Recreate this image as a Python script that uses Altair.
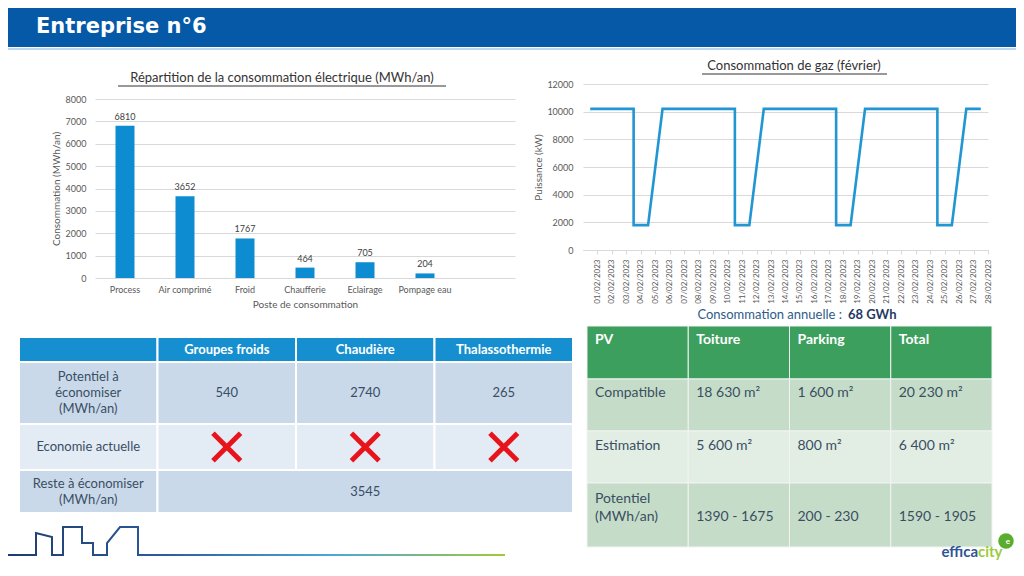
import altair as alt
import pandas as pd

W, H = 1008, 556
FONT = "Lato"

# ---------------- data ----------------
title_text = "Entreprise n°6"

elec_title = "Répartition de la consommation électrique (MWh/an)"
elec_categories = ["Process", "Air comprimé", "Froid", "Chaufferie", "Eclairage", "Pompage eau"]
elec_values = [6810, 3652, 1767, 464, 705, 204]
elec_ticks = [0, 1000, 2000, 3000, 4000, 5000, 6000, 7000, 8000]

gas_title = "Consommation de gaz (février)"
gas_dates = ["01/02/2023", "02/02/2023", "03/02/2023", "04/02/2023", "05/02/2023", "06/02/2023",
             "07/02/2023", "08/02/2023", "09/02/2023", "10/02/2023", "11/02/2023", "12/02/2023",
             "13/02/2023", "14/02/2023", "15/02/2023", "16/02/2023", "17/02/2023", "18/02/2023",
             "19/02/2023", "20/02/2023", "21/02/2023", "22/02/2023", "23/02/2023", "24/02/2023",
             "25/02/2023", "26/02/2023", "27/02/2023", "28/02/2023"]
gas_point_dates = ["01/02/2023", "02/02/2023", "03/02/2023", "04/02/2023", "04/02/2023", "05/02/2023",
                   "06/02/2023", "07/02/2023", "08/02/2023", "09/02/2023", "10/02/2023", "11/02/2023",
                   "11/02/2023", "12/02/2023", "13/02/2023", "14/02/2023", "15/02/2023", "16/02/2023",
                   "17/02/2023", "18/02/2023", "18/02/2023", "19/02/2023", "20/02/2023", "21/02/2023",
                   "22/02/2023", "23/02/2023", "24/02/2023", "25/02/2023", "25/02/2023", "26/02/2023",
                   "27/02/2023", "28/02/2023"]
gas_point_kw = [10200, 10200, 10200, 10200, 1800, 1800,
                10200, 10200, 10200, 10200, 10200, 10200,
                1800, 1800, 10200, 10200, 10200, 10200,
                10200, 10200, 1800, 1800, 10200, 10200,
                10200, 10200, 10200, 10200, 1800, 1800,
                10200, 10200]
gas_ticks = [0, 2000, 4000, 6000, 8000, 10000, 12000]

annual_label = "Consommation annuelle :"
annual_value = "68 GWh"

left_header = ["", "Groupes froids", "Chaudière", "Thalassothermie"]
left_rows = ["Potentiel à\néconomiser\n(MWh/an)", "Economie actuelle", "Reste à économiser\n(MWh/an)"]
left_potentiel = ["540", "2740", "265"]
left_economie_ok = [False, False, False]
left_reste = "3545"

pv_header = ["PV", "Toiture", "Parking", "Total"]
pv_rows = ["Compatible", "Estimation", "Potentiel\n(MWh/an)"]
pv_compatible = ["18 630 m²", "1 600 m²", "20 230 m²"]
pv_estimation = ["5 600 m²", "800 m²", "6 400 m²"]
pv_potentiel = ["1390 - 1675", "200 - 230", "1590 - 1905"]

logo_left = "effica"
logo_right = "city"

# decorative skyline outline (shape)
skyline_x = [0, 28, 28, 44, 44, 55, 55, 74, 74, 85, 85, 99, 99, 112, 130, 130, 497]
skyline_y = [547, 547, 525, 529, 547, 547, 519, 519, 535, 535, 547, 547, 535, 519, 519, 547, 547]

# ---------------- styles / layout ----------------
TXT = "#595959"
TABLE_TXT = "#3A4E63"
BLUE_HDR = "#0559A6"
BAR_BLUE = "#0E8CD2"
LINE_BLUE = "#2196D3"
GRID = "#D9D9D9"

# ---------- header ----------
one = pd.DataFrame({"t": [title_text]})
header = alt.layer(
    alt.Chart(one).mark_rect(color=BLUE_HDR).encode(
        x=alt.value(0), x2=alt.value(W), y=alt.value(0), y2=alt.value(39)),
    alt.Chart(one).mark_rule(color="#BDD7EE", strokeWidth=2).encode(
        x=alt.value(0), x2=alt.value(W), y=alt.value(41)),
    alt.Chart(one).mark_text(font="DejaVu Sans", fontWeight="bold", fontSize=21, color="white",
                             align="left", baseline="alphabetic").encode(
        x=alt.value(28), y=alt.value(25), text="t:N"),
)

# ---------- bar chart ----------
bar_df = pd.DataFrame({"poste": elec_categories, "mwh": elec_values})
bx = alt.X("poste:N", sort=None,
           scale=alt.Scale(domain=elec_categories + [" "], range=[87, 507], paddingInner=0, paddingOuter=0),
           axis=alt.Axis(orient="bottom", offset=270 - H, title="Poste de consommation", labelAngle=0,
                         labelFontSize=9, labelColor=TXT, labelFont=FONT, labelPadding=7,
                         titleFont=FONT, titleFontSize=10, titleColor=TXT, titleFontWeight="normal",
                         titlePadding=5, ticks=False, domain=False, grid=False))
by = alt.Y("mwh:Q",
           scale=alt.Scale(domain=[0, 8000], range=[270, 91], nice=False, zero=True),
           axis=alt.Axis(orient="left", offset=-87, values=elec_ticks, format="d", grid=True,
                         gridColor=GRID, domain=False, ticks=False, labelFontSize=9, labelColor=TXT,
                         labelFont=FONT, labelPadding=9, title="Consommation (MWh/an)", titleFont=FONT,
                         titleFontSize=10, titleColor=TXT, titleFontWeight="normal", titlePadding=4))
bars = alt.Chart(bar_df).mark_bar(size=19, color=BAR_BLUE).encode(x=bx, y=by)
bar_labels = alt.Chart(bar_df).mark_text(dy=-9, fontSize=9, font=FONT, color="#404040").encode(
    x=bx, y=by, text="mwh:Q")
elec_t = pd.DataFrame({"t": [elec_title]})
bar_title = alt.Chart(elec_t).mark_text(fontSize=13, font=FONT, color="#333333").encode(
    x=alt.value(274), y=alt.value(70), text="t:N")
bar_ul = alt.Chart(elec_t).mark_rule(color="#333333", strokeWidth=1).encode(
    x=alt.value(110), x2=alt.value(438), y=alt.value(78))
bar_group = alt.layer(bars, bar_labels, bar_title, bar_ul)

# ---------- gas line chart ----------
gas_df = pd.DataFrame({"date": gas_point_dates, "kw": gas_point_kw, "i": range(len(gas_point_kw))})
step = (980 - 575) / len(gas_dates)
lx = alt.X("date:N", sort=None,
           scale=alt.Scale(type="point", domain=gas_dates, range=[575, 980], padding=0.5),
           axis=alt.Axis(orient="bottom", offset=242 - H, title=None, labelAngle=270, labelFontSize=8,
                         labelColor=TXT, labelFont=FONT, labelPadding=5, ticks=True, tickColor=GRID,
                         tickSize=4, tickOffset=step / 2, domain=True, domainColor=GRID, grid=False))
ly = alt.Y("kw:Q",
           scale=alt.Scale(domain=[0, 12000], range=[242, 76], nice=False),
           axis=alt.Axis(orient="left", offset=-575, values=gas_ticks, format="d", grid=True,
                         gridColor=GRID, domain=False, ticks=False, labelFontSize=9, labelColor=TXT,
                         labelFont=FONT, labelPadding=10, title="Puissance (kW)", titleFont=FONT,
                         titleFontSize=10, titleColor=TXT, titleFontWeight="normal", titlePadding=3))
gas_line = alt.Chart(gas_df).mark_line(color=LINE_BLUE, strokeWidth=2.6, strokeJoin="miter").encode(
    x=lx, y=ly, order="i:Q")
gas_t = pd.DataFrame({"t": [gas_title]})
gas_title_m = alt.Chart(gas_t).mark_text(fontSize=13, font=FONT, color="#333333").encode(
    x=alt.value(786), y=alt.value(58), text="t:N")
gas_ul = alt.Chart(gas_t).mark_rule(color="#333333", strokeWidth=1).encode(
    x=alt.value(694), x2=alt.value(879), y=alt.value(66))
ann = pd.DataFrame({"a": [annual_label], "b": [annual_value]})
ann_a = alt.Chart(ann).mark_text(fontSize=13, font=FONT, color="#2E5C8A", align="right").encode(
    x=alt.value(834), y=alt.value(307), text="a:N")
ann_b = alt.Chart(ann).mark_text(fontSize=13, font=FONT, fontWeight="bold", color="#1F3864",
                                 align="left").encode(x=alt.value(840), y=alt.value(307), text="b:N")
line_group = alt.layer(gas_line, gas_title_m, gas_ul, ann_a, ann_b)

# ---------- left table (economies) ----------
L_ROW_H = [25, 62, 46, 43]
L_FILL = ["#168FD0", "#C9D9EA", "#E3EBF5", "#C9D9EA"]
L_LH = 16
l_tops = [sum(L_ROW_H[:k]) for k in range(len(L_ROW_H))]
l_total = sum(L_ROW_H)
cells = []
for c, name in enumerate(left_header):
    cells.append(dict(c0=c, c1=c + 1, r0=l_tops[0], r1=l_tops[0] + L_ROW_H[0], fill=L_FILL[0],
                      text=name, kind="head"))
for r, label in enumerate(left_rows):
    rr = r + 1
    top, bot = l_tops[rr], l_tops[rr] + L_ROW_H[rr]
    cells.append(dict(c0=0, c1=1, r0=top, r1=bot, fill=L_FILL[rr], text=label, kind="body"))
    if r == 0:
        for c, v in enumerate(left_potentiel):
            cells.append(dict(c0=c + 1, c1=c + 2, r0=top, r1=bot, fill=L_FILL[rr], text=v, kind="body"))
    elif r == 1:
        for c, ok in enumerate(left_economie_ok):
            cells.append(dict(c0=c + 1, c1=c + 2, r0=top, r1=bot, fill=L_FILL[rr], text="",
                              kind="ok" if ok else "cross"))
    else:
        cells.append(dict(c0=1, c1=4, r0=top, r1=bot, fill=L_FILL[rr], text=left_reste, kind="body"))
lt = pd.DataFrame(cells)
lt["xc"] = (lt.c0 + lt.c1) / 2
lt["yc"] = (lt.r0 + lt.r1) / 2
lt["ty"] = lt.yc - (lt.text.str.count("\n")) * L_LH / 2
lxs = alt.Scale(domain=[0, 4], range=[11, 565], nice=False, zero=False)
lys = alt.Scale(domain=[0, l_total], range=[329, 329 + l_total], nice=False, zero=False)
l_rect = alt.Chart(lt).mark_rect(stroke="white", strokeWidth=2).encode(
    x=alt.X("c0:Q", scale=lxs, axis=None), x2="c1:Q",
    y=alt.Y("r0:Q", scale=lys, axis=None), y2="r1:Q",
    fill=alt.Fill("fill:N", scale=None))
l_head = alt.Chart(lt).transform_filter(alt.datum.kind == "head").mark_text(
    font=FONT, fontSize=13, fontWeight="bold", color="white").encode(
    x=alt.X("xc:Q", scale=lxs, axis=None), y=alt.Y("ty:Q", scale=lys, axis=None), text="text:N")
l_body = alt.Chart(lt).transform_filter(alt.datum.kind == "body").mark_text(
    font=FONT, fontSize=13, color=TABLE_TXT, lineBreak="\n", lineHeight=L_LH).encode(
    x=alt.X("xc:Q", scale=lxs, axis=None), y=alt.Y("ty:Q", scale=lys, axis=None), text="text:N")
l_cross = alt.Chart(lt).transform_filter(alt.datum.kind == "cross").mark_point(
    shape="M-1,-1L1,1M-1,1L1,-1", size=760, stroke="#E8141B", strokeWidth=5, filled=False,
    opacity=1).encode(
    x=alt.X("xc:Q", scale=lxs, axis=None), y=alt.Y("yc:Q", scale=lys, axis=None))
left_table = alt.layer(l_rect, l_head, l_body, l_cross)

# ---------- right table (PV) ----------
R_ROW_H = [53, 52, 52, 64]
R_FILL = ["#3D9F5E", "#C5DDC8", "#E2EEE3", "#C5DDC8"]
R_TXT_OFF = [7, 7, 8, 9]
R_VAL_OFF = [7, 7, 8, 27]
r_tops = [sum(R_ROW_H[:k]) for k in range(len(R_ROW_H))]
r_total = sum(R_ROW_H)
pv_values = [pv_compatible, pv_estimation, pv_potentiel]
rc = []
for c, name in enumerate(pv_header):
    rc.append(dict(c0=c, c1=c + 1, r0=0, r1=R_ROW_H[0], fill=R_FILL[0], text=name, kind="head",
                   ty=R_TXT_OFF[0]))
for r, label in enumerate(pv_rows):
    rr = r + 1
    top, bot = r_tops[rr], r_tops[rr] + R_ROW_H[rr]
    rc.append(dict(c0=0, c1=1, r0=top, r1=bot, fill=R_FILL[rr], text=label, kind="body",
                   ty=top + R_TXT_OFF[rr]))
    for c, v in enumerate(pv_values[r]):
        rc.append(dict(c0=c + 1, c1=c + 2, r0=top, r1=bot, fill=R_FILL[rr], text=v, kind="body",
                       ty=top + R_VAL_OFF[rr]))
rt = pd.DataFrame(rc)
rxs = alt.Scale(domain=[0, 4], range=[579, 984], nice=False, zero=False)
rys = alt.Scale(domain=[0, r_total], range=[318, 318 + r_total], nice=False, zero=False)
r_rect = alt.Chart(rt).mark_rect(stroke="#F2F2F2", strokeWidth=1).encode(
    x=alt.X("c0:Q", scale=rxs, axis=None), x2="c1:Q",
    y=alt.Y("r0:Q", scale=rys, axis=None), y2="r1:Q",
    fill=alt.Fill("fill:N", scale=None))
r_head = alt.Chart(rt).transform_filter(alt.datum.kind == "head").mark_text(
    font=FONT, fontSize=14, fontWeight="bold", color="white", align="left", baseline="top", dx=8).encode(
    x=alt.X("c0:Q", scale=rxs, axis=None), y=alt.Y("ty:Q", scale=rys, axis=None), text="text:N")
r_body = alt.Chart(rt).transform_filter(alt.datum.kind == "body").mark_text(
    font=FONT, fontSize=14, color=TABLE_TXT, align="left", baseline="top", dx=8, lineBreak="\n",
    lineHeight=18).encode(
    x=alt.X("c0:Q", scale=rxs, axis=None), y=alt.Y("ty:Q", scale=rys, axis=None), text="text:N")
right_table = alt.layer(r_rect, r_head, r_body)

# ---------- skyline + logo ----------
sky = pd.DataFrame({"x": skyline_x, "y": skyline_y, "i": range(len(skyline_x))})
sky_line = alt.Chart(sky).mark_line(
    strokeWidth=2,
    stroke=alt.Gradient(gradient="linear", x1=0, x2=1, y1=0, y2=0,
                        stops=[alt.GradientStop(color="#1F3B6E", offset=0),
                               alt.GradientStop(color="#2B5A98", offset=0.3),
                               alt.GradientStop(color="#4BA6DA", offset=0.65),
                               alt.GradientStop(color="#A2C93A", offset=1)])).encode(
    x=alt.X("x:Q", scale=alt.Scale(domain=[0, W], range=[0, W], nice=False, zero=False), axis=None),
    y=alt.Y("y:Q", scale=alt.Scale(domain=[0, H], range=[0, H], nice=False, zero=False), axis=None),
    order="i:Q")
logo = pd.DataFrame({"a": [logo_left], "b": [logo_right], "e": ["e"]})
logo_ball = alt.Chart(logo).mark_point(shape="circle", filled=True, size=240, color="#5BAE2D",
                                       opacity=1).encode(x=alt.value(998), y=alt.value(533))
logo_e = alt.Chart(logo).mark_text(fontSize=8, font=FONT, fontWeight="bold", color="white").encode(
    x=alt.value(1000), y=alt.value(534), text="e:N")
logo_a = alt.Chart(logo).mark_text(fontSize=15, font=FONT, fontWeight="bold", color="#2F5597",
                                   align="right", baseline="alphabetic").encode(
    x=alt.value(970), y=alt.value(549), text="a:N")
logo_b = alt.Chart(logo).mark_text(fontSize=15, font=FONT, fontWeight="bold", color="#9BCB3C",
                                   align="left", baseline="alphabetic").encode(
    x=alt.value(970), y=alt.value(549), text="b:N")
deco = alt.layer(sky_line, logo_ball, logo_e, logo_a, logo_b)

chart = alt.layer(header, bar_group, line_group, left_table, right_table, deco).resolve_scale(
    x="independent", y="independent"
).properties(
    width=W, height=H, padding=0, autosize=alt.AutoSizeParams(type="none"),
    background="white"
).configure_view(stroke=None)

chart.save("out.html", embed_options={"renderer": "svg", "actions": False})
